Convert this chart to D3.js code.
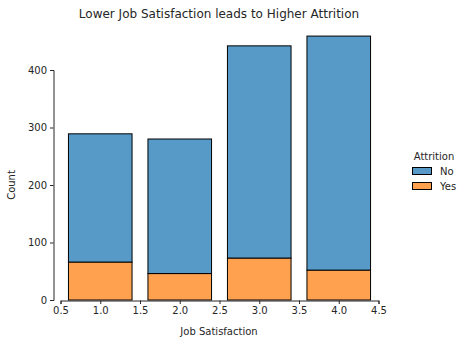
<!DOCTYPE html>
<html><head><meta charset="utf-8">
<script src="https://cdn.jsdelivr.net/npm/d3@7"></script>
<style>body{margin:0;background:#fff}svg{display:block}text{font-family:"DejaVu Sans",sans-serif;fill:#262626}</style>
</head><body>
<svg id="c" width="465" height="344"></svg>
<script>
const categories = [1, 2, 3, 4];
const noValues = [223, 234, 369, 407];
const yesValues = [66, 46, 73, 52];
const xTicks = [0.5, 1.0, 1.5, 2.0, 2.5, 3.0, 3.5, 4.0, 4.5];
const yTicks = [0, 100, 200, 300, 400];
const seriesNames = ["No", "Yes"];
const colors = {No: "#5799c7", Yes: "#ffa14e"};

const svg = d3.select("#c");
const x = d3.scaleLinear().domain([0.5, 4.5]).range([60.5, 378.5]);
const y = d3.scaleLinear().domain([0, 400]).range([300, 70]);

svg.append("text").attr("x", 219).attr("y", 18).attr("text-anchor", "middle")
  .style("font-size", "12px").text("Lower Job Satisfaction leads to Higher Attrition");

const data = categories.map((c, i) => ({c, No: noValues[i], Yes: yesValues[i]}));
const stack = d3.stack().keys(["Yes", "No"])(data);
const bw = 0.8;
stack.forEach(layer => {
  svg.append("g").selectAll("rect").data(layer).join("rect")
    .attr("x", d => x(d.data.c - bw/2))
    .attr("width", d => x(d.data.c + bw/2) - x(d.data.c - bw/2))
    .attr("y", d => y(d[1]))
    .attr("height", d => y(d[0]) - y(d[1]))
    .attr("fill", colors[layer.key]).attr("stroke", "#000").attr("stroke-width", 1);
});

// x axis
const xa = svg.append("g").attr("transform", "translate(0,300.5)")
  .call(d3.axisBottom(x).tickValues(xTicks).tickFormat(d3.format(".1f")).tickSizeOuter(0).tickSize(3.5).tickPadding(3));
xa.select(".domain").attr("stroke", "#262626");
xa.selectAll("line").attr("stroke", "#262626");
xa.selectAll("text").style("font-size", "10px").style("font-family", "DejaVu Sans").attr("fill", "#262626");

// y axis
const ya = svg.append("g").attr("transform", "translate(53.5,0)")
  .call(d3.axisLeft(y).tickValues(yTicks).tickSizeOuter(0).tickSize(3.5).tickPadding(3));
ya.select(".domain").attr("stroke", "#262626");
ya.selectAll("line").attr("stroke", "#262626");
ya.selectAll("text").style("font-size", "10px").style("font-family", "DejaVu Sans").attr("fill", "#262626");

svg.append("text").attr("transform", "translate(15,185) rotate(-90)").attr("text-anchor", "middle")
  .style("font-size", "10px").text("Count");
svg.append("text").attr("x", 219).attr("y", 335).attr("text-anchor", "middle")
  .style("font-size", "10px").text("Job Satisfaction");

// legend
const lg = svg.append("g");
lg.append("text").attr("x", 434).attr("y", 160).attr("text-anchor", "middle").style("font-size", "10px").text("Attrition");
seriesNames.forEach((s, i) => {
  lg.append("rect").attr("x", 412.5).attr("y", 167.5 + i*15).attr("width", 19).attr("height", 7)
    .attr("fill", colors[s]).attr("stroke", "#000").attr("stroke-width", 1);
  lg.append("text").attr("x", 440).attr("y", 175 + i*15).style("font-size", "10px").text(s);
});
</script>
</body></html>
